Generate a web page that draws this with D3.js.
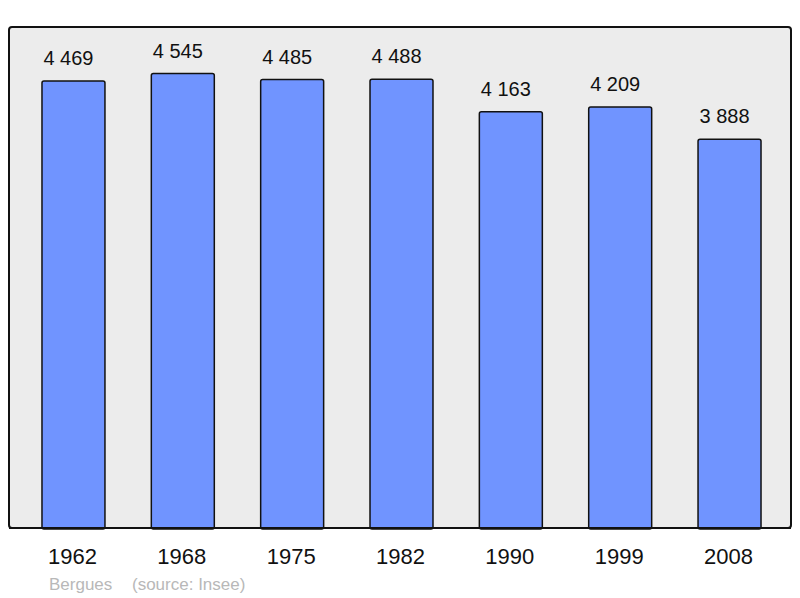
<!DOCTYPE html>
<html><head><meta charset="utf-8">
<script src="https://cdn.jsdelivr.net/npm/d3@7/dist/d3.min.js"></script>
<style>body{margin:0;background:#fff}svg{display:block}</style>
</head><body>
<script>
const years = ["1962","1968","1975","1982","1990","1999","2008"];
const population = [4469,4545,4485,4488,4163,4209,3888];
const place = "Bergues";
const source = "(source: Insee)";

const W = 800, H = 598;
const svg = d3.select("body").append("svg").attr("width", W).attr("height", H);
const font = "'Liberation Sans', Arial, sans-serif";

// frame
svg.append("rect").attr("x", 9).attr("y", 27).attr("width", 782).attr("height", 501)
  .attr("rx", 3).attr("fill", "#ececec").attr("stroke", "#111").attr("stroke-width", 2);

const x = d3.scaleBand().domain(years).range([18.8, 784.2]).paddingInner(0.424).paddingOuter(0.212);
const y = d3.scaleLinear().domain([0, 5010]).range([528, 27]);

const g = svg.append("g");
g.selectAll("rect.bar").data(years).enter().append("rect").attr("class","bar")
  .attr("x", d => x(d)).attr("width", x.bandwidth())
  .attr("y", (d,i) => y(population[i])).attr("height", (d,i) => y(0) - y(population[i]) + 1)
  .attr("rx", 2).attr("fill", "#7094ff").attr("stroke", "#111").attr("stroke-width", 1.5);

const fmt = v => d3.format(",")(v).replace(/,/g, " ");
g.selectAll("text.val").data(years).enter().append("text").attr("class","val")
  .attr("x", d => x(d) + x.bandwidth()/2 - 5).attr("y", (d,i) => y(population[i]) - 16)
  .attr("text-anchor","middle").attr("font-family", font).attr("font-size", 20).attr("fill","#111")
  .text((d,i) => fmt(population[i]));

// re-draw frame bottom line over bars
svg.append("line").attr("x1", 9).attr("x2", 791).attr("y1", 528).attr("y2", 528)
  .attr("stroke", "#111").attr("stroke-width", 2);

const xAxis = d3.axisBottom(x).tickSize(0).tickPadding(0);
const ax = svg.append("g").attr("transform", "translate(-1,548)").call(xAxis);
ax.select(".domain").remove();
ax.selectAll("text").attr("font-family", font).attr("font-size", 22).attr("fill", "#111")
  .attr("dy", "0.72em");

svg.append("text").attr("x", 49).attr("y", 590).attr("font-family", font).attr("font-size", 17)
  .attr("fill", "#b8b8b8").text(place);
svg.append("text").attr("x", 132).attr("y", 590).attr("font-family", font).attr("font-size", 17)
  .attr("fill", "#b8b8b8").text(source);
</script>
</body></html>
